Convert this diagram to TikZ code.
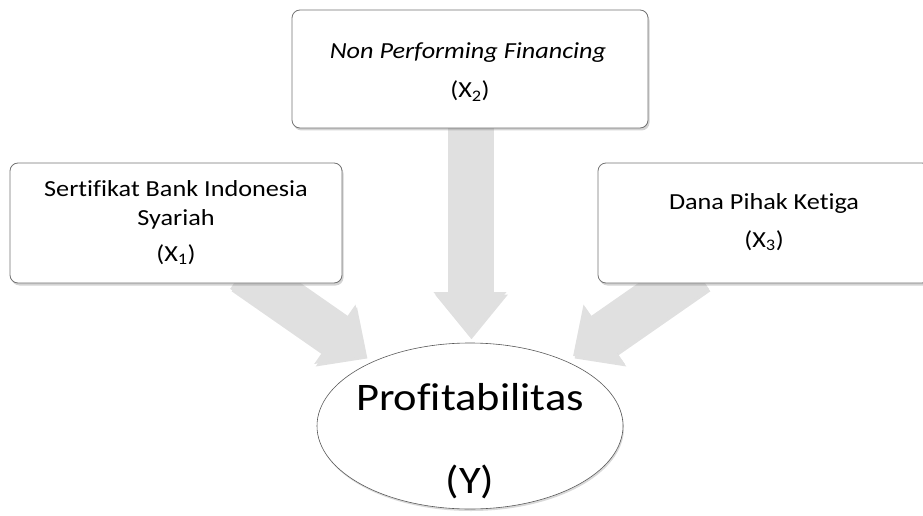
\documentclass[tikz,border=0pt]{standalone}
\usepackage{graphicx}
\usepackage{fontspec}
\setmainfont{Carlito}[RawFeature={-liga;-clig;-dlig}]
\usetikzlibrary{shapes.geometric,shadows,backgrounds,arrows.meta,calc}
\newcommand{\hstretch}[1]{\scalebox{1.14}[1]{#1}}
\begin{document}
\begin{tikzpicture}[x=1pt,y=-1pt,
  box/.style={draw=black!55, line width=0.8pt, rounded corners=8pt, fill=white,
    drop shadow={shadow xshift=1.5pt, shadow yshift=-2.5pt, opacity=0.35}},
  boxtxt/.style={anchor=base, inner sep=0pt, font=\fontsize{23}{28}\selectfont},
  bigtxt/.style={anchor=base, inner sep=0pt, font=\fontsize{39}{47}\selectfont},
  flow/.style={line width=45pt, draw=black!12, -{Triangle[width=70pt,length=#1]}},
  flowshadow/.style={line width=45pt, draw=black!40, opacity=0.3,
    -{Triangle[width=70pt,length=#1]}, transform canvas={xshift=1.5pt,yshift=-2.5pt}}
]
\useasboundingbox (0,0) rectangle (923,516);

% boxes
\node[box, minimum width=356pt, minimum height=118pt] (npf) at (470,69) {};
\node[box, minimum width=332pt, minimum height=120pt] (sbis) at (176,223) {};
\node[box, minimum width=332pt, minimum height=120pt] (dpk) at (764,223) {};
\node[ellipse, draw=black!65, line width=0.6pt, fill=white,
  minimum width=306pt, minimum height=166pt,
  drop shadow={shadow xshift=1pt, shadow yshift=-2pt, opacity=0.3}] (prof) at (470,426) {};

% texts
\node[boxtxt] (t1a) at (176,196) {\hstretch{Sertifikat Bank Indonesia}};
\node[boxtxt] (t1b) at (176,225) {\hstretch{Syariah}};
\node[boxtxt] (t1c) at (176,261) {\hstretch{(X\textsubscript{1})}};
\node[boxtxt] (t2a) at (468,59) {\hstretch{\itshape Non Performing Financing}};
\node[boxtxt] (t2b) at (470,98) {\hstretch{(X\textsubscript{2})}};
\node[boxtxt] (t3a) at (764,209) {\hstretch{Dana Pihak Ketiga}};
\node[boxtxt] (t3b) at (764,247) {\hstretch{(X\textsubscript{3})}};
\node[bigtxt] (pa) at (470,410) {\hstretch{Profitabilitas}};
\node[bigtxt] (pb) at (470,493) {\hstretch{(Y)}};

% arrows
\coordinate (tipL) at (366,356);
\coordinate (tipM) at (470,337);
\coordinate (tipR) at (573,356);
\begin{scope}[on background layer]
  \draw[flowshadow=38pt] ([xshift=67pt,yshift=13pt]sbis.south) -- (tipL);
  \draw[flowshadow=45pt] ([yshift=5pt]npf.south) -- (tipM);
  \draw[flowshadow=38pt] ([xshift=-68pt,yshift=13pt]dpk.south) -- (tipR);
  \draw[flow=38pt] ([xshift=67pt,yshift=13pt]sbis.south) -- (tipL);
  \draw[flow=45pt] ([yshift=5pt]npf.south) -- (tipM);
  \draw[flow=38pt] ([xshift=-68pt,yshift=13pt]dpk.south) -- (tipR);
\end{scope}
\end{tikzpicture}
\end{document}
